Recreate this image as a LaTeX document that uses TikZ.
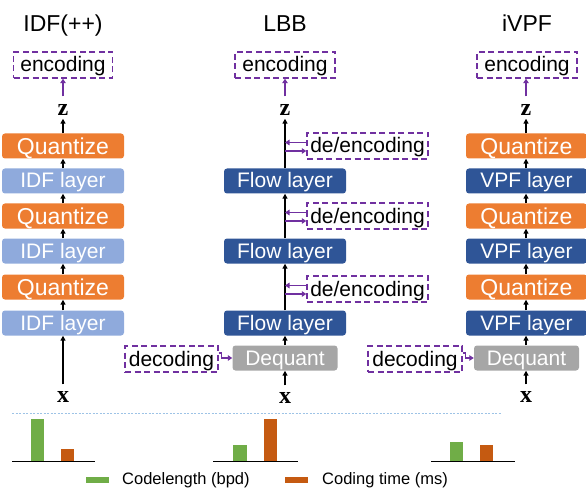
\documentclass[tikz,border=0pt]{standalone}
\usepackage{fontspec}
\setmainfont{Liberation Sans}
\newfontfamily\xzfont{Liberation Serif}
\usetikzlibrary{arrows.meta}
\definecolor{qorange}{HTML}{ED7D31}
\definecolor{lblue}{HTML}{8FAADC}
\definecolor{dblue}{HTML}{2F5597}
\definecolor{dgray}{HTML}{A6A6A6}
\definecolor{purp}{HTML}{7030A0}
\definecolor{bgreen}{HTML}{70AD47}
\definecolor{borange}{HTML}{C55A11}
\definecolor{sepblue}{HTML}{9DC3E6}
\begin{document}
\begin{tikzpicture}[x=1pt,y=-1pt,
 box/.style={rounded corners=3pt, minimum width=122pt, minimum height=25pt, text=white, inner sep=0pt, text height=15pt, text depth=1pt, font=\fontsize{21}{21}\selectfont},
 quant/.style={box, fill=qorange, text height=18pt, font=\fontsize{23}{23}\selectfont},
 idf/.style={box, fill=lblue},
 flow/.style={box, fill=dblue},
 deq/.style={box, fill=dgray, minimum width=105pt},
 dbox/.style={draw=purp, dash pattern=on 6pt off 3.5pt, line width=1.4pt, minimum height=26pt, inner sep=0pt, text height=15pt, text depth=1pt, font=\fontsize{21}{21}\selectfont},
 lbl/.style={font=\xzfont\bfseries\fontsize{24}{24}\selectfont, inner sep=0pt},
 title/.style={font=\fontsize{23}{23}\selectfont, inner sep=0pt, anchor=base},
 blk/.style={-{Triangle[width=5pt,length=5pt]}, line width=1.4pt},
 pur/.style={-{Triangle[width=5.5pt,length=4.5pt]}, line width=1.2pt, draw=purp},
 leg/.style={font=\fontsize{16.5}{16.5}\selectfont, anchor=west, inner sep=0pt},
]
\useasboundingbox (0,0) rectangle (586,489);

% ---------- IDF(++) column ----------
\node[title] (t1) at (63,31.5) {IDF(++)};
\node[dbox, minimum width=99pt] (e1) at (63,65) {encoding};
\node[lbl] (z1) at (63,110) {z};
\node[quant] (a3) at (63,146) {Quantize};
\node[idf] (b3) at (63,181) {IDF layer};
\node[quant] (a2) at (63,216) {Quantize};
\node[idf] (b2) at (63,251) {IDF layer};
\node[quant] (a1) at (63,287) {Quantize};
\node[idf] (b1) at (63,323) {IDF layer};
\node[lbl] (x1) at (63,397) {x};
\draw[pur] ([yshift=8pt]z1.north) -- (e1.south);
\draw[blk] (a3.north) -- ([yshift=-3pt]z1.south);
\draw[blk] (b3.north) -- (a3.south);
\draw[blk] (a2.north) -- (b3.south);
\draw[blk] (b2.north) -- (a2.south);
\draw[blk] (a1.north) -- (b2.south);
\draw[blk] (b1.north) -- (a1.south);
\draw[blk] ([yshift=7pt]x1.north) -- (b1.south);

% ---------- LBB column ----------
\node[title] (t2) at (285,31.5) {LBB};
\node[dbox, minimum width=100pt] (e2) at (285,65) {encoding};
\node[lbl] (z2) at (285,110) {z};
\node[flow] (f3) at (285,181) {Flow layer};
\node[flow] (f2) at (285,251) {Flow layer};
\node[flow] (f1) at (285,323) {Flow layer};
\node[deq] (d2) at (285,358) {Dequant};
\node[lbl] (x2) at (285,398) {x};
\node[dbox, minimum width=121pt] (g3) at (367.5,146) {de/encoding};
\node[dbox, minimum width=121pt] (g2) at (367.5,216) {de/encoding};
\node[dbox, minimum width=121pt] (g1) at (367.5,289) {de/encoding};
\node[dbox, minimum width=93pt] (c2) at (171.5,359) {decoding};
\draw[pur] ([yshift=8pt]z2.north) -- (e2.south);
\draw[blk] (f3.north) -- ([yshift=-3pt]z2.south);
\draw[blk] (f2.north) -- (f3.south);
\draw[blk] (f1.north) -- (f2.south);
\draw[blk] (d2.north) -- (f1.south);
\draw[blk] ([yshift=7pt]x2.north) -- (d2.south);
\foreach \g in {g1,g2,g3}{
  \path ([yshift=3.5pt]\g.west) coordinate (\g up) ([yshift=-5pt]\g.west) coordinate (\g dn);
  \draw[pur] (\g up) -- (\g up -| f3.north);
  \draw[pur] (\g dn -| f3.north) -- (\g dn);
}
\draw[pur] ([yshift=6pt]c2.east) -- ++(3,0) |- (d2.west);

% ---------- iVPF column ----------
\node[title] (t3) at (527,31.5) {iVPF};
\node[dbox, minimum width=100pt] (e3) at (527,65) {encoding};
\node[lbl] (z3) at (526,110) {z};
\node[quant, minimum width=121pt] (q3) at (526.5,146) {Quantize};
\node[flow, minimum width=121pt] (v3) at (526.5,181) {VPF layer};
\node[quant, minimum width=121pt] (q2) at (526.5,216) {Quantize};
\node[flow, minimum width=121pt] (v2) at (526.5,251) {VPF layer};
\node[quant, minimum width=121pt] (q1) at (526.5,287) {Quantize};
\node[flow, minimum width=121pt] (v1) at (526.5,323) {VPF layer};
\node[deq] (d3) at (526.5,358) {Dequant};
\node[lbl] (x3) at (526,397) {x};
\node[dbox, minimum width=94pt] (c3) at (415,359) {decoding};
\draw[pur] ([yshift=8pt]z3.north) -- (z3.north |- e3.south);
\draw[blk] (z3.south |- q3.north) -- ([yshift=-3pt]z3.south);
\draw[blk] (z3.south |- v3.north) -- (z3.south |- q3.south);
\draw[blk] (z3.south |- q2.north) -- (z3.south |- v3.south);
\draw[blk] (z3.south |- v2.north) -- (z3.south |- q2.south);
\draw[blk] (z3.south |- q1.north) -- (z3.south |- v2.south);
\draw[blk] (z3.south |- v1.north) -- (z3.south |- q1.south);
\draw[blk] (z3.south |- d3.north) -- (z3.south |- v1.south);
\draw[blk] ([yshift=7pt]x3.north) -- (x3.north |- d3.south);
\draw[pur] ([yshift=6pt]c3.east) -- ++(3,0) |- (d3.west);

% ---------- separator and bar charts ----------
\draw[sepblue, line width=0.8pt, dash pattern=on 2pt off 1.5pt] (12,413) -- (502,413);
\fill[bgreen] (31,419) rectangle (43.5,461);
\fill[borange] (61,449) rectangle (74,461);
\draw[line width=1pt] (12,461) -- (95,461);
\fill[bgreen] (233,445) rectangle (246.5,461);
\fill[borange] (264,419) rectangle (277,461);
\draw[line width=1pt] (213,461) -- (298,461);
\fill[bgreen] (450,442) rectangle (463,461);
\fill[borange] (480,445) rectangle (493,461);
\draw[line width=1pt] (431,461) -- (515,461);

% ---------- legend ----------
\fill[bgreen] (86,477) rectangle (109,483);
\node[leg] (l1) at (122,480.5) {Codelength (bpd)};
\fill[borange] (285,477) rectangle (308,483);
\node[leg] (l2) at (322,480.5) {Coding time (ms)};
\end{tikzpicture}
\end{document}
